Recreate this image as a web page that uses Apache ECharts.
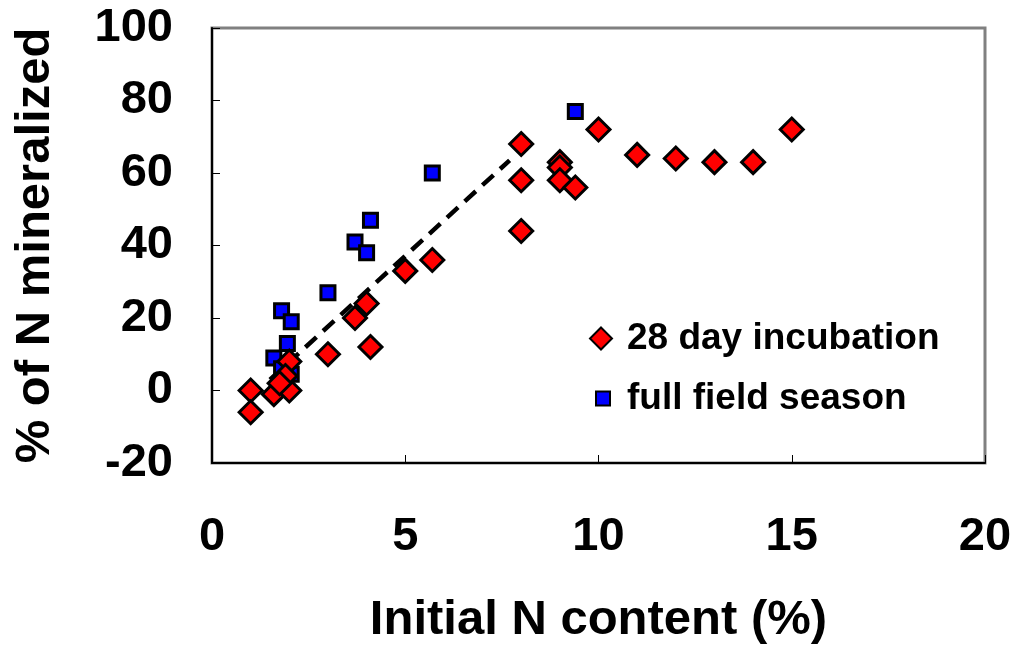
<!DOCTYPE html>
<html><head><meta charset="utf-8">
<script src="https://cdn.jsdelivr.net/npm/echarts@6/dist/echarts.min.js"></script>
<style>html,body{margin:0;padding:0;background:#fff}#c{width:1028px;height:650px}</style>
</head><body><div id="c"></div>
<script>
const incubation = [
  [1.0,0],[1.0,-6],[1.6,-1],[2.0,0],[2.0,8],[1.9,4],[1.75,2],
  [3.0,10],[3.7,20],[4.0,24],[4.1,12],[5.0,33],[5.7,36],
  [8.0,68],[8.0,58],[8.0,44],[9.0,63],[9.0,61.5],[9.0,58],[9.4,56],
  [10,72],[11,65],[12,64],[13,63],[14,63],[15,72]
];
const fieldSeason = [
  [1.6,9],[1.8,22],[2.05,19],[1.95,13],[1.8,6],[2.05,4.5],
  [3.0,27],[3.7,41],[4.0,38],[4.1,47],[5.7,60],[9.4,77]
];
const trend = [[1.5,3],[7.7,63.5]];
const xTicks = [0,5,10,15,20];
const yTicks = [-20,0,20,40,60,80,100];

const font = 'Liberation Sans, Arial, sans-serif';
const chart = echarts.init(document.getElementById('c'));
chart.setOption({
  animation:false,
  backgroundColor:'#fff',
  grid:{left:212,right:43,top:28,bottom:187,outerBoundsMode:'none',containLabel:false,
    show:true,borderColor:'#808080',borderWidth:3,backgroundColor:'#fff'},
  xAxis:{type:'value',min:xTicks[0],max:xTicks[xTicks.length-1],interval:5,
    name:'Initial N content (%)',nameLocation:'middle',nameGap:133,
    nameTextStyle:{fontFamily:font,fontWeight:'bold',fontSize:49,color:'#000'},
    axisLine:{show:true,onZero:false,lineStyle:{color:'#000',width:2}},
    axisTick:{show:true,inside:true,length:8,lineStyle:{color:'#000',width:1}},
    axisLabel:{margin:51,fontFamily:font,fontWeight:'bold',fontSize:47,color:'#000'},
    splitLine:{show:false}},
  yAxis:{type:'value',min:yTicks[0],max:yTicks[yTicks.length-1],interval:20,
    name:'% of N mineralized',nameLocation:'middle',nameGap:152,nameRotate:90,
    nameTextStyle:{fontFamily:font,fontWeight:'bold',fontSize:49,color:'#000'},
    axisLine:{show:true,onZero:false,lineStyle:{color:'#000',width:2}},
    axisTick:{show:true,inside:true,length:8,lineStyle:{color:'#000',width:1}},
    axisLabel:{margin:39,fontFamily:font,fontWeight:'bold',fontSize:47,color:'#000'},
    splitLine:{show:false}},
  legend:[
    {data:['28 day incubation'],left:584,top:315,itemWidth:22,itemHeight:22,
     textStyle:{fontFamily:font,fontWeight:'bold',fontSize:37,color:'#000',padding:[0,0,0,10]}},
    {data:['full field season'],left:590,top:375,itemWidth:14,itemHeight:14,
     textStyle:{fontFamily:font,fontWeight:'bold',fontSize:37,color:'#000',padding:[0,0,0,12]}}
  ],
  series:[
    {name:'trend',type:'line',data:trend,symbol:'none',z:1,
     lineStyle:{color:'#000',width:4.5,type:[15,9]}},
    {name:'full field season',type:'scatter',data:fieldSeason,symbol:'rect',symbolSize:14,z:2,
     itemStyle:{color:'#0000ff',borderColor:'#000',borderWidth:3,opacity:1}},
    {name:'28 day incubation',type:'scatter',data:incubation,symbol:'diamond',symbolSize:23,z:3,
     itemStyle:{color:'#ff0000',borderColor:'#000',borderWidth:3,opacity:1}}
  ]
});
</script></body></html>
